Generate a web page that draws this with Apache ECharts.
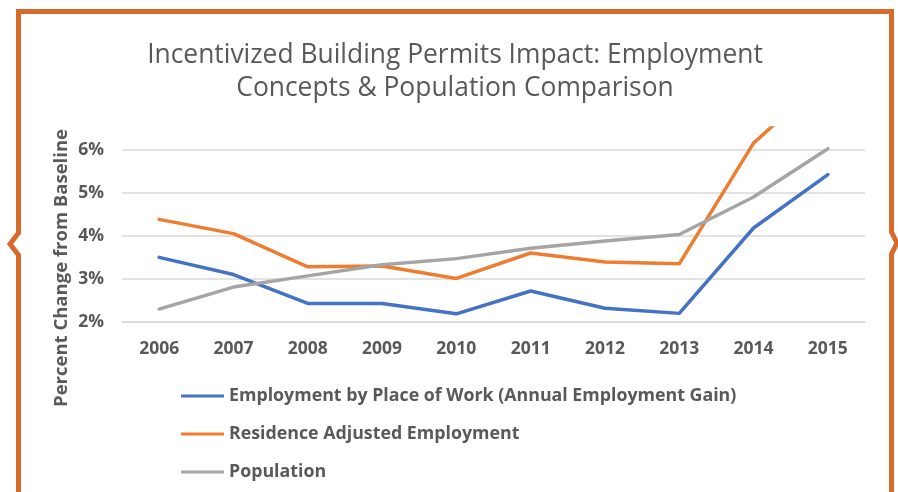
<!DOCTYPE html>
<html>
<head>
<meta charset="utf-8">
<script src="https://cdn.jsdelivr.net/npm/echarts@6/dist/echarts.min.js"></script>
<style>
  html, body { margin: 0; padding: 0; background: #ffffff; }
  #chart { width: 898px; height: 492px; }
</style>
</head>
<body>
<div id="chart"></div>
<script>
// Years on the category axis
const years = ['2006', '2007', '2008', '2009', '2010', '2011', '2012', '2013', '2014', '2015'];

// Percent change from baseline for each series
const employmentByPlaceOfWork = [3.5, 3.1, 2.43, 2.43, 2.19, 2.72, 2.32, 2.2, 4.18, 5.42];
const residenceAdjusted = [4.38, 4.05, 3.28, 3.3, 3.01, 3.6, 3.39, 3.35, 6.15, 7.7];
const population = [2.3, 2.81, 3.07, 3.33, 3.47, 3.71, 3.88, 4.03, 4.9, 6.02];

// Series names shown in the legend
const seriesNames = [
  'Employment by Place of Work (Annual Employment Gain)',
  'Residence Adjusted Employment',
  'Population'
];

const ORANGE_FRAME = '#D76A2B';
const TEXT = '#595959';
const FONT = "'Open Sans', sans-serif";

const chart = echarts.init(document.getElementById('chart'), null, { renderer: 'canvas' });

function lineSeries(name, data, color) {
  return {
    name: name,
    type: 'line',
    data: data,
    symbol: 'none',
    smooth: false,
    clip: true,
    lineStyle: { color: color, width: 3.5, cap: 'round', join: 'round' },
    itemStyle: { color: color }
  };
}

chart.setOption({
  backgroundColor: '#ffffff',
  animation: false,
  title: {
    text: 'Incentivized Building Permits Impact: Employment\nConcepts & Population Comparison',
    left: 450,
    top: 34,
    textAlign: 'center',
    textStyle: {
      fontFamily: FONT,
      fontWeight: 'normal',
      fontSize: 26.4,
      color: TEXT,
      lineHeight: 33,
      align: 'center'
    }
  },
  grid: { left: 122, right: 33, top: 128, bottom: 170 },
  xAxis: {
    type: 'category',
    data: years,
    boundaryGap: true,
    axisLine: { show: true, lineStyle: { color: '#D9D9D9', width: 1.5 } },
    axisTick: { show: false },
    axisLabel: { margin: 18, color: TEXT, fontFamily: FONT, fontWeight: 'bold', fontSize: 17.5 }
  },
  yAxis: {
    type: 'value',
    min: 2,
    max: 6.5,
    interval: 1,
    axisLine: { show: false },
    axisTick: { show: false },
    axisLabel: {
      margin: 18,
      showMaxLabel: false,
      color: TEXT,
      fontFamily: FONT,
      fontWeight: 'bold',
      fontSize: 17.5,
      formatter: function (v) { return Number.isInteger(v) ? v + '%' : ''; }
    },
    splitLine: { show: true, showMaxLine: false, lineStyle: { color: '#D9D9D9', width: 1.5 } }
  },
  legend: {
    orient: 'vertical',
    left: 176,
    top: 382,
    itemWidth: 43,
    itemHeight: 18,
    itemGap: 20,
    icon: 'path://M0,7.5 L43,7.5 L43,10.5 L0,10.5 Z',
    textStyle: { color: TEXT, fontFamily: FONT, fontWeight: 'bold', fontSize: 17.8 },
    data: seriesNames
  },
  series: [
    lineSeries(seriesNames[0], employmentByPlaceOfWork, '#4472C4'),
    lineSeries(seriesNames[1], residenceAdjusted, '#ED7D31'),
    lineSeries(seriesNames[2], population, '#A5A5A5')
  ],
  graphic: [
    {
      type: 'text',
      x: 62,
      y: 268,
      rotation: Math.PI / 2,
      style: {
        text: 'Percent Change from Baseline',
        fill: TEXT,
        font: "bold 18.5px 'Open Sans', sans-serif",
        align: 'center',
        verticalAlign: 'middle'
      }
    },
    {
      // Decorative frame with side notches
      type: 'polyline',
      silent: true,
      shape: {
        points: [
          [18.5, 500], [18.5, 255], [10, 244], [18.5, 233], [18.5, 11.5],
          [891.5, 11.5], [891.5, 232], [897, 243], [891.5, 254], [891.5, 500]
        ]
      },
      style: { stroke: ORANGE_FRAME, lineWidth: 5, fill: null, lineJoin: 'miter' }
    }
  ]
});
</script>
</body>
</html>
